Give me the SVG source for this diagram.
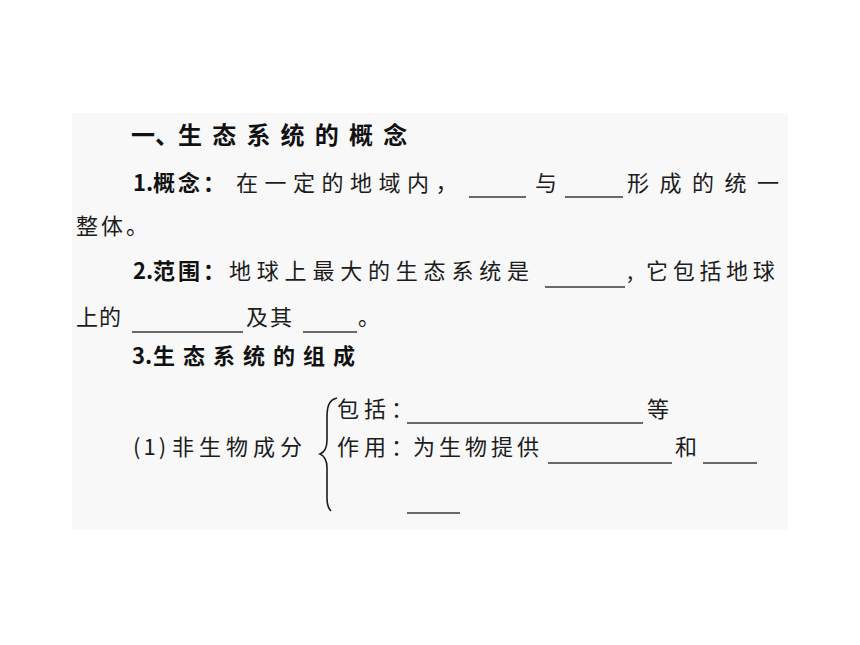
<svg xmlns="http://www.w3.org/2000/svg" width="860" height="645" viewBox="0 0 860 645">
<style>
.t{font-family:"Noto Sans CJK SC","Liberation Serif",sans-serif;font-size:22px;fill:#1c1c1c;font-weight:400}
.b{font-family:"Noto Sans CJK SC","Liberation Sans",sans-serif;font-size:22px;fill:#111;font-weight:700}
.h{font-size:24px}
.u{stroke:#3a3a3a;stroke-width:1.4;fill:none}
</style>
<rect width="860" height="645" fill="#ffffff"/>
<rect x="72" y="113" width="716" height="417" fill="#f8f8f8"/>
<g id="title"><text class="b h" x="131" y="144">一、<tspan x="178" letter-spacing="10.2">生态系统的概念</tspan></text></g>
<g id="line1">
<text class="b" x="133" y="191">1.<tspan x="153" letter-spacing="3">概念：</tspan></text>
<text class="t" x="236" y="191" letter-spacing="6.5">在一定的地域内，</text>
<line class="u" x1="469" y1="197" x2="526" y2="197"/>
<text class="t" x="535" y="191">与</text>
<line class="u" x1="565" y1="197" x2="623" y2="197"/>
<text class="t" x="627" y="191" letter-spacing="10.5">形成的统一</text>
</g>
<g id="line2"><text class="t" x="76" y="234" letter-spacing="3">整体。</text></g>
<g id="line3">
<text class="b" x="133" y="279">2.<tspan x="153" letter-spacing="3">范围：</tspan></text>
<text class="t" x="229" y="279" letter-spacing="5.8">地球上最大的生态系统是</text>
<line class="u" x1="545" y1="287" x2="625" y2="287"/>
<text class="t" x="627" y="279">,<tspan x="646" letter-spacing="4.7">它包括地球</tspan></text>
</g>
<g id="line4">
<text class="t" x="76" y="325" letter-spacing="1">上的</text>
<line class="u" x1="132" y1="332" x2="243" y2="332"/>
<text class="t" x="246" y="325" letter-spacing="2">及其</text>
<line class="u" x1="303" y1="332" x2="357" y2="332"/>
<text class="t" x="358" y="325">。</text>
</g>
<g id="line5">
<text class="b" x="132" y="364">3.<tspan x="153" letter-spacing="8">生态系统的组成</tspan></text>
</g>
<g id="nonliving">
<text class="t" x="133" y="455" letter-spacing="3">(1)<tspan x="172" letter-spacing="5">非生物成分</tspan></text>
<path d="M337,398 C328,400 327,408 327,418 L327,440 C327,448 325,452 320,454 C325,456 327,460 327,468 L327,498 C327,504 328,508 331,511" fill="none" stroke="#1c1c1c" stroke-width="1.6"/>
<text class="t" x="337" y="417" letter-spacing="5">包括：</text>
<line class="u" x1="407" y1="423" x2="643" y2="423"/>
<text class="t" x="647" y="417">等</text>
<text class="t" x="337" y="455" letter-spacing="5">作用：<tspan x="413" letter-spacing="4">为生物提供</tspan></text>
<line class="u" x1="548" y1="463" x2="672" y2="463"/>
<text class="t" x="675" y="455">和</text>
<line class="u" x1="703" y1="463" x2="757" y2="463"/>
<line class="u" x1="407" y1="513" x2="460" y2="513"/>
</g>
</svg>
